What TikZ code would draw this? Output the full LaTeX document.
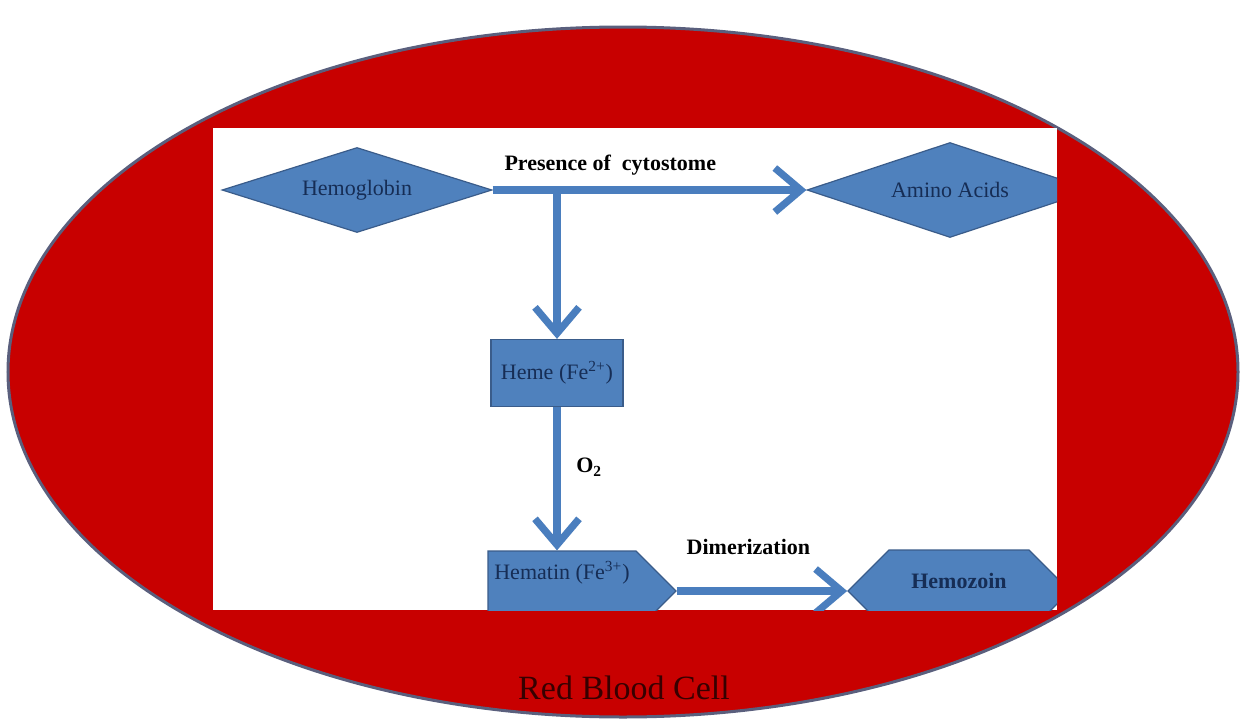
\documentclass[tikz,border=0pt]{standalone}
\usepackage{fontspec}
\setmainfont{Liberation Serif}
\usetikzlibrary{arrows.meta,positioning,shapes.geometric,shapes.symbols}
\definecolor{CellRed}{RGB}{200,0,0}
\definecolor{CellRim}{RGB}{90,95,125}
\definecolor{Box}{RGB}{79,129,189}
\definecolor{BoxRim}{RGB}{58,92,138}
\definecolor{Ink}{RGB}{22,45,85}
\definecolor{Flow}{RGB}{74,126,190}
\definecolor{CellInk}{RGB}{55,0,0}

\begin{document}
\begin{tikzpicture}[
    x=0.5pt, y=-0.5pt,
    font=\fontsize{11}{13}\selectfont,
    box/.style={fill=Box, draw=BoxRim, line width=0.6pt, text=Ink, inner sep=0pt},
    gem/.style={box, diamond, aspect=3},
    tag/.style={box, signal, signal pointer angle=90},
    flow/.style={Flow, line width=3.6pt, -{Straight Barb[length=13pt,width=22pt]}},
    lbl/.style={font=\bfseries\fontsize{11}{13}\selectfont}
]
  \useasboundingbox (0,0) rectangle (1243,728);

  % the cell
  \draw[CellRim, line width=1.5pt, fill=CellRed] (623,372) ellipse [x radius=307.5pt, y radius=172.5pt];
  \fill[white] (213,128) rectangle (1057,610);

  \begin{scope}
    \clip (213,128) rectangle (1057,610);

    \node[gem, minimum width=135pt, minimum height=42.5pt] (hemoglobin) at (357,190) {Hemoglobin};
    \node[gem, minimum width=143pt, minimum height=47.5pt] (amino) at (950,190) {Amino Acids};
    \node[box, rectangle, minimum width=66pt, minimum height=33.5pt] (heme) at (557,373) {Heme (Fe\textsuperscript{2+})};
    \node[tag, signal to=east, minimum width=94pt, minimum height=40pt, text depth=21pt] (hematin) at (562,591)
      {Hematin (Fe\textsuperscript{3+})};
    \node[tag, signal to=west and east, minimum width=111pt, minimum height=41pt, text depth=10pt] (hemozoin) at (959,591)
      {\bfseries Hemozoin};

    \coordinate (split) at (heme.north |- hemoglobin.east);

    \draw[flow] (hemoglobin.east) -- (amino.west) node[lbl, pos=0.375, above=2pt, text=black] {Presence of\ \ cytostome};
    \draw[flow] (split) -- (heme.north);
    \draw[flow] (heme.south) -- (heme.south |- hematin.north) node[lbl, pos=0.42, right=4.5pt, text=black] {O\textsubscript{2}};
    \draw[flow] (hematin.east) -- (hemozoin.west) node[lbl, pos=0.42, above=13pt, text=black] {Dimerization};
  \end{scope}

  \node[text=CellInk, font=\fontsize{17}{19}\selectfont] (cell) at (624,688) {Red Blood Cell};
\end{tikzpicture}
\end{document}
